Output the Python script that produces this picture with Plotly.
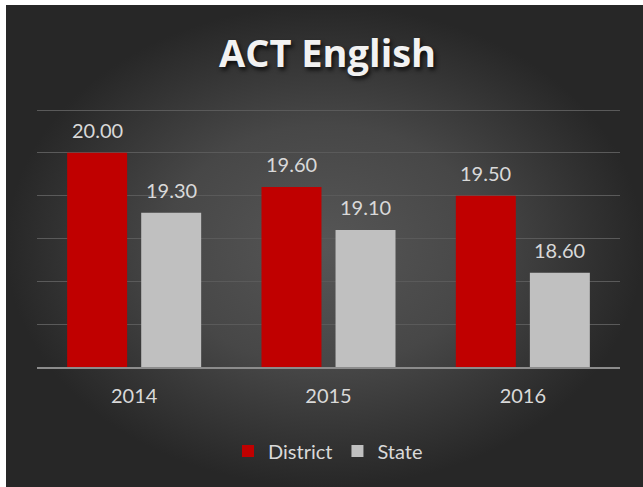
import plotly.graph_objects as go

years = ["2014", "2015", "2016"]
district = [20.00, 19.60, 19.50]
state = [19.30, 19.10, 18.60]
series_names = ["District", "State"]
series_colors = ["#C00000", "#C0C0C0"]
title_text = "ACT English"

W, H = 643, 487
PL, PR, PT, PB = 37, 620, 108.3, 367  # plot area in pixels

def fx(px):
    return px / W

def fy(py):
    return 1 - py / H

fig = go.Figure()

# background panel with radial gradient (on full-paper helper axes)
fig.add_trace(go.Scatter(x=[fx(6), 1, 1, fx(6), fx(6)], y=[0, 0, fy(5), fy(5), 0],
                         mode="lines", fill="toself", line=dict(width=0),
                         fillgradient=dict(type="radial",
                                           colorscale=[[0, "#565656"], [0.5, "#474747"], [1, "#272727"]]),
                         hoverinfo="skip", showlegend=False, xaxis="x", yaxis="y"))

for name, vals, col in zip(series_names, [district, state], series_colors):
    fig.add_trace(go.Bar(x=years, y=vals, name=name, marker=dict(color=col, line=dict(width=0)),
                         hoverinfo="skip", xaxis="x2", yaxis="y2"))

label_font = dict(family="Lato", size=20, color="#D9D9D9")
annotations = []
for vals, shift in zip([district, state], [-37, 37]):
    for i, v in enumerate(vals):
        annotations.append(dict(x=i, y=v, xref="x2", yref="y2", text=f"{v:.2f}", showarrow=False,
                                xshift=shift, yshift=23, yanchor="middle", font=label_font))
annotations.append(dict(x=fx(327), y=fy(52), xref="paper", yref="paper",
                        text=f"<b>{title_text}</b>", showarrow=False, yanchor="middle",
                        font=dict(family="Open Sans", size=38, color="#F2F2F2",
                                  shadow="2px 3px 4px rgba(0,0,0,0.75)")))

fig.update_layout(
    width=W, height=H, autosize=False,
    margin=dict(l=0, r=0, t=0, b=0, pad=0, autoexpand=False),
    paper_bgcolor="#FFFFFF", plot_bgcolor="rgba(0,0,0,0)",
    barmode="group", bargap=0.238, bargroupgap=0.19,
    showlegend=True,
    legend=dict(orientation="h", x=fx(328), xanchor="center", y=fy(451), yanchor="middle",
                font=label_font, bgcolor="rgba(0,0,0,0)", traceorder="normal", itemwidth=30),
    xaxis=dict(domain=[0, 1], range=[0, 1], visible=False, fixedrange=True),
    yaxis=dict(domain=[0, 1], range=[0, 1], visible=False, fixedrange=True),
    xaxis2=dict(type="category", domain=[fx(PL), fx(PR)], anchor="y2", range=[-0.5, 2.5],
                showgrid=False, showline=True, linecolor="#8C8C8C", linewidth=2,
                ticks="outside", ticklen=10, tickcolor="rgba(0,0,0,0)", automargin=False,
                tickfont=label_font, fixedrange=True),
    yaxis2=dict(domain=[fy(PB), fy(PT)], anchor="x2", range=[17.5, 20.52], dtick=0.5,
                showgrid=True, gridcolor="#5A5A5A", gridwidth=1,
                showticklabels=False, zeroline=False, showline=False, fixedrange=True, automargin=False),
    annotations=annotations,
)

fig.write_html("out.html", config={"displayModeBar": False},
               post_script="document.body.style.margin='0';")
